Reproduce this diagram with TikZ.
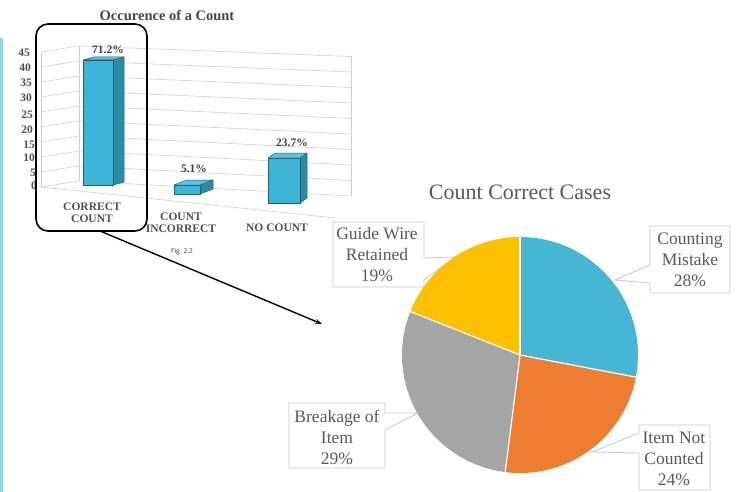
\documentclass[tikz,border=0pt]{standalone}
\usepackage{fontspec}
\setmainfont{Liberation Serif}
\newfontfamily\figfont{Open Sans}
\usetikzlibrary{arrows.meta}
\definecolor{barfront}{HTML}{3DB5D6}
\definecolor{barside}{HTML}{2B8CA3}
\definecolor{bartop}{HTML}{5CC3DC}
\definecolor{baredge}{HTML}{1F5F70}
\definecolor{gridcol}{HTML}{CFCFCF}
\definecolor{axtext}{HTML}{505050}
\definecolor{pietext}{HTML}{595959}
\definecolor{calloutline}{HTML}{C8C8C8}
\definecolor{cmcol}{HTML}{45B6D3}
\definecolor{nccol}{HTML}{ED7D31}
\definecolor{brcol}{HTML}{A5A5A5}
\definecolor{gwcol}{HTML}{FFC000}
\definecolor{stripcol}{HTML}{8FD6E8}
\begin{document}
\begin{tikzpicture}[x=1pt,y=-1pt,
 grid/.style={gridcol, line width=0.6pt},
 ticklab/.style={font=\bfseries\fontsize{11.5}{11.5}\selectfont, text=axtext, anchor=east, inner sep=0pt},
 catlab/.style={font=\bfseries\fontsize{11.5}{12}\selectfont, text=axtext, align=center, inner sep=0pt},
 vallab/.style={font=\bfseries\fontsize{11.5}{11.5}\selectfont, text=black!75, inner sep=0pt},
 barface/.style={draw=baredge, line width=0.5pt, line join=round},
 callout/.style={draw=calloutline, line width=0.8pt, fill=white, line join=miter},
 pielab/.style={font=\fontsize{17.5}{21}\selectfont, text=pietext, align=center, inner sep=0pt},
 sep/.style={white, line width=1.2pt}]
\useasboundingbox (0,0) rectangle (741,492);
\fill[white] (0,0) rectangle (741,492);
% left strip
\fill[stripcol] (0,38) rectangle (3,492);

% ---------- 3D bar chart ----------
\node[font=\bfseries\fontsize{14.5}{15}\selectfont, text=black!72, inner sep=0pt] (bartitle) at (167,15) {Occurence of a Count};
\foreach \v in {0,5,...,45} {
  \draw[grid] (41,{187-3*\v}) -- (79,{181-3*\v}) -- (351,{196-3.1*\v});
}
\draw[grid] (41,52) -- (41,187);
\draw[grid] (79,46) -- (79,181);
\draw[grid] (351,56.5) -- (351,196);
\draw[grid] (41,187) -- (335,218);

\node[ticklab] (t45) at (30,53) {45};
\node[ticklab] (t40) at (31,68) {40};
\node[ticklab] (t35) at (32,83) {35};
\node[ticklab] (t30) at (32,98) {30};
\node[ticklab] (t25) at (33,115) {25};
\node[ticklab] (t20) at (33,130) {20};
\node[ticklab] (t15) at (35,145) {15};
\node[ticklab] (t10) at (35,158) {10};
\node[ticklab] (t5) at (36,173) {5};
\node[ticklab] (t0) at (37,186) {0};

% bar 1
\filldraw[barface, fill=barside] (113,60) -- (124,57) -- (124,182) -- (113,185) -- cycle;
\filldraw[barface, fill=barfront] (83,60) rectangle (113,185);
\filldraw[barface, fill=bartop] (83,60) -- (113,60) -- (124,57) -- (94,57) -- cycle;
% bar 2
\filldraw[barface, fill=barside] (200,185) -- (213,180) -- (213,189) -- (200,194) -- cycle;
\filldraw[barface, fill=barfront] (174,185) rectangle (200,194);
\filldraw[barface, fill=bartop] (174,185) -- (200,185) -- (213,180) -- (187,180) -- cycle;
% bar 3
\filldraw[barface, fill=barside] (300,158) -- (307,153) -- (307,198) -- (300,203) -- cycle;
\filldraw[barface, fill=barfront] (268,158) rectangle (300,203);
\filldraw[barface, fill=bartop] (268,158) -- (300,158) -- (307,153) -- (275,153) -- cycle;

\node[vallab] (v1) at (108,50) {71.2\%};
\node[vallab] (v2) at (194,169) {5.1\%};
\node[vallab] (v3) at (292,143) {23.7\%};

\node[catlab] (c1) at (92,213) {CORRECT\\COUNT};
\node[catlab] (c2) at (181,223) {COUNT\\INCORRECT};
\node[catlab] (c3) at (277,228) {NO COUNT};

\node[font=\figfont\fontsize{6.5}{7}\selectfont, text=black!80, inner sep=0pt] (fig) at (182,252) {Fig. 2.2};

% highlight box and arrow
\node[draw=black, line width=1.6pt, rounded corners=12pt, minimum width=111pt, minimum height=207pt, inner sep=0pt] (zoombox) at (91.5,127.5) {};
\coordinate (arrowfrom) at (100,231);
\coordinate (arrowto) at (322,324);
\draw[-{Stealth[length=7pt,width=5pt]}, line width=1.4pt] (arrowfrom) -- (arrowto);

% ---------- pie chart ----------
\node[font=\fontsize{22}{24}\selectfont, text=pietext, inner sep=0pt] (pietitle) at (520,192) {Count Correct Cases};

% callouts (drawn before the pie so the wedge tips tuck under it)
\draw[callout] (333,222) -- (424,222) -- (424,258) -- (455,257) -- (424,280) -- (424,287) -- (333,287) -- cycle;
\draw[callout] (650,226) -- (730,226) -- (730,293) -- (650,293) -- (650,283) -- (615,280) -- (650,265) -- cycle;
\draw[callout] (639,425) -- (710,425) -- (710,490) -- (639,490) -- (639,453) -- (592,452) -- (639,433) -- cycle;
\draw[callout] (289,403) -- (385,403) -- (385,413) -- (418,413) -- (385,430) -- (385,468) -- (289,468) -- cycle;

\begin{scope}[shift={(520,355)}, y=1pt]
\fill[cmcol] (0,0) -- (90:118pt) arc[start angle=90, end angle=-10.8, radius=118pt] -- cycle;
\fill[nccol] (0,0) -- (-10.8:118pt) arc[start angle=-10.8, end angle=-97.2, radius=118pt] -- cycle;
\fill[brcol] (0,0) -- (-97.2:118pt) arc[start angle=-97.2, end angle=-201.6, radius=118pt] -- cycle;
\fill[gwcol] (0,0) -- (158.4:118pt) arc[start angle=158.4, end angle=90, radius=118pt] -- cycle;
\draw[sep] (0,0) -- (90:118.5pt);
\draw[sep] (0,0) -- (-10.8:118.5pt);
\draw[sep] (0,0) -- (-97.2:118.5pt);
\draw[sep] (0,0) -- (158.4:118.5pt);
\end{scope}

\node[pielab] (gw) at (377,255) {Guide Wire\\Retained\\19\%};
\node[pielab] (cm) at (690,260) {Counting\\Mistake\\28\%};
\node[pielab] (nc) at (674,459) {Item Not\\Counted\\24\%};
\node[pielab] (br) at (337,437) {Breakage of\\Item\\29\%};
\end{tikzpicture}
\end{document}
